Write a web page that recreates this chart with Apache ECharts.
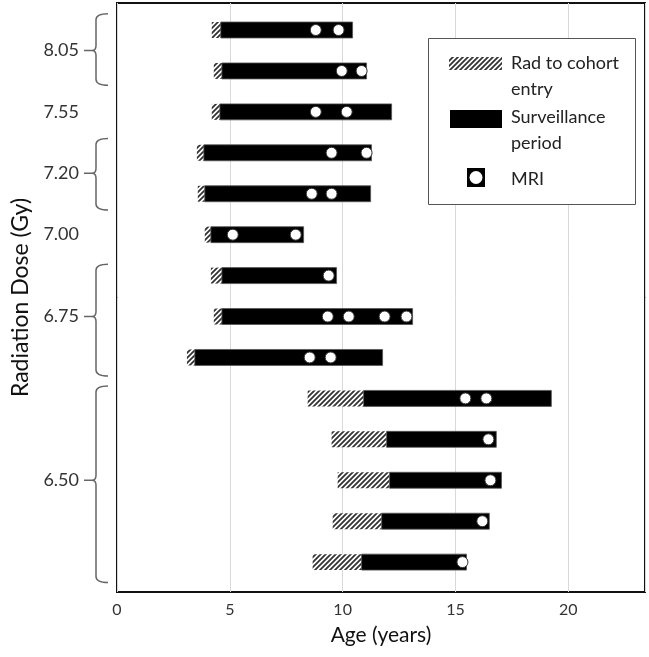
<!DOCTYPE html>
<html><head><meta charset="utf-8">
<script src="https://cdn.jsdelivr.net/npm/echarts@6/dist/echarts.min.js"></script>
<style>html,body{margin:0;padding:0;background:#fff}#c{width:649px;height:657px}</style>
</head><body><div id="c"></div>
<script>
// ---- data (ages in years, rows top to bottom) ----
const rowIndex = [0,1,2,3,4,5,6,7,8,9,10,11,12,13];
const radAge   = [4.20,4.29,4.20,3.54,3.58,3.89,4.16,4.29,3.10,8.45,9.51,9.78,9.56,8.67];
const entryAge = [4.60,4.65,4.56,3.85,3.89,4.16,4.65,4.65,3.45,10.93,11.95,12.08,11.73,10.84];
const endAge   = [10.44,11.06,12.17,11.28,11.24,8.27,9.73,13.10,11.77,19.25,16.81,17.04,16.50,15.49];
const mriAges  = [[8.81,9.82],[9.96,10.84],[8.81,10.18],[9.51,11.06],[8.63,9.51],[5.13,7.92],[9.38],
                  [9.34,10.27,11.86,12.83],[8.54,9.47],[15.44,16.37],[16.46],[16.55],[16.19],[15.31]];
const doseLabels    = ['8.05','7.55','7.20','7.00','6.75','6.50'];
const doseLabelRows = [0.5, 2, 3.5, 5, 7, 11];
const braceFrom = [-0.40, 2.65, 5.72, 8.70];
const braceTo   = [1.35, 4.40, 8.45, 13.50];
const braceMid  = [0.5, 3.5, 7, 11];
const xTicks = [0, 5, 10, 15, 20];

// ---- pattern ----
function hatch(){
  const s = 5, c = document.createElement('canvas');
  c.width = s; c.height = s;
  const g = c.getContext('2d');
  g.fillStyle = '#fff'; g.fillRect(0,0,s,s);
  g.strokeStyle = '#333'; g.lineWidth = 1.8;
  g.beginPath();
  g.moveTo(0, s); g.lineTo(s, 0);
  g.moveTo(-1, 1); g.lineTo(1, -1);
  g.moveTo(s-1, s+1); g.lineTo(s+1, s-1);
  g.stroke();
  return c;
}
const hatchPattern = {image: hatch(), repeat: 'repeat'};

const hatchData = rowIndex.map(i => [radAge[i], entryAge[i], i]);
const survData  = rowIndex.map(i => [entryAge[i], endAge[i], i]);
const mriData = [];
rowIndex.forEach(i => mriAges[i].forEach(a => mriData.push([a, i])));
const braceData = braceMid.map((m, k) => [0, braceFrom[k], braceTo[k], m]);

function segRender(fill, stroke){
  return function(params, api){
    const s = api.coord([api.value(0), api.value(2)]);
    const e = api.coord([api.value(1), api.value(2)]);
    const h = api.size([0, 0.39])[1];
    return {type:'rect', shape:{x:s[0], y:s[1]-h/2, width:e[0]-s[0], height:h},
            style:{fill: fill, stroke: stroke, lineWidth: stroke ? 0.8 : 0}};
  };
}

const chart = echarts.init(document.getElementById('c'));
const FONT = 'Lato';
chart.setOption({
  animation: false,
  textStyle: {fontFamily: FONT},
  grid: {left: 117, right: 4, top: 3, bottom: 65, show: true, borderColor: '#111', borderWidth: 2},
  xAxis: {
    type: 'value', min: 0, max: 23.4, interval: 5,
    name: 'Age (years)', nameLocation: 'middle', nameGap: 33,
    nameTextStyle: {fontSize: 21, color: '#111', fontFamily: FONT},
    axisLine: {show: false}, axisTick: {show: false},
    axisLabel: {fontSize: 16, color: '#333', margin: 10, showMaxLabel: false,
      formatter: v => xTicks.includes(v) ? String(v) : ''},
    splitLine: {show: true, lineStyle: {color: '#d9d9d9', width: 1}}
  },
  yAxis: {
    type: 'value', inverse: true, min: -0.66, max: 13.73,
    name: 'Radiation Dose (Gy)', nameLocation: 'middle', nameGap: 82,
    nameTextStyle: {fontSize: 23, color: '#111', fontFamily: FONT},
    axisLine: {show: false}, axisTick: {show: false}, splitLine: {show: false},
    axisLabel: {customValues: doseLabelRows, fontSize: 18, color: '#333', margin: 38,
      formatter: v => { const k = doseLabelRows.indexOf(v); return k >= 0 ? doseLabels[k] : ''; }}
  },
  series: [
    {type: 'custom', name: 'Rad to cohort entry', data: hatchData, encode: {x: [0,1], y: 2},
     renderItem: segRender(hatchPattern, null), z: 2},
    {type: 'custom', name: 'Surveillance period', data: survData, encode: {x: [0,1], y: 2},
     renderItem: segRender('#000', '#555'), z: 2},
    {type: 'scatter', name: 'MRI', data: mriData, symbol: 'circle', symbolSize: 11, z: 3,
     itemStyle: {color: '#fff', borderColor: '#333', borderWidth: 1, opacity: 1}},
    {type: 'custom', name: 'brace', data: braceData, encode: {x: 0, y: [1,2,3]}, clip: false, silent: true,
     renderItem: function(params, api){
       const top = api.coord([0, api.value(1)]);
       const bot = api.coord([0, api.value(2)]);
       const mid = api.coord([0, api.value(3)]);
       const x = top[0] - 21, xr = top[0] - 9, xp = top[0] - 25, xd = top[0] - 33;
       const y1 = top[1], y2 = bot[1], ym = mid[1];
       const d = `M${xr},${y1} Q${x},${y1} ${x},${y1+6} L${x},${ym-5} Q${x},${ym} ${xp},${ym} ` +
                 `Q${x},${ym} ${x},${ym+5} L${x},${y2-6} Q${x},${y2} ${xr},${y2} M${xp},${ym} L${xd},${ym}`;
       return {type: 'path', shape: {pathData: d}, style: {fill: 'none', stroke: '#666', lineWidth: 1.5}};
     }}
  ],
  graphic: [
    {type: 'rect', shape: {x: 428.5, y: 38.5, width: 207, height: 166},
     style: {fill: '#fff', stroke: '#555', lineWidth: 1}, z: 10},
    {type: 'rect', shape: {x: 449, y: 57, width: 53, height: 13},
     style: {fill: hatchPattern}, z: 11},
    {type: 'rect', shape: {x: 450, y: 110, width: 52, height: 18},
     style: {fill: '#000'}, z: 11},
    {type: 'rect', shape: {x: 467, y: 168, width: 18, height: 19},
     style: {fill: '#000'}, z: 11},
    {type: 'circle', shape: {cx: 476, cy: 177.5, r: 6.5},
     style: {fill: '#fff'}, z: 12},
    {type: 'text', x: 511, y: 63, style: {text: 'Rad to cohort', fontSize: 18, fontFamily: FONT, fill: '#222', verticalAlign: 'middle'}, z: 11},
    {type: 'text', x: 511, y: 89, style: {text: 'entry', fontSize: 18, fontFamily: FONT, fill: '#222', verticalAlign: 'middle'}, z: 11},
    {type: 'text', x: 511, y: 117, style: {text: 'Surveillance', fontSize: 18, fontFamily: FONT, fill: '#222', verticalAlign: 'middle'}, z: 11},
    {type: 'text', x: 511, y: 143, style: {text: 'period', fontSize: 18, fontFamily: FONT, fill: '#222', verticalAlign: 'middle'}, z: 11},
    {type: 'text', x: 511, y: 179, style: {text: 'MRI', fontSize: 18, fontFamily: FONT, fill: '#222', verticalAlign: 'middle'}, z: 11}
  ]
});
</script></body></html>
